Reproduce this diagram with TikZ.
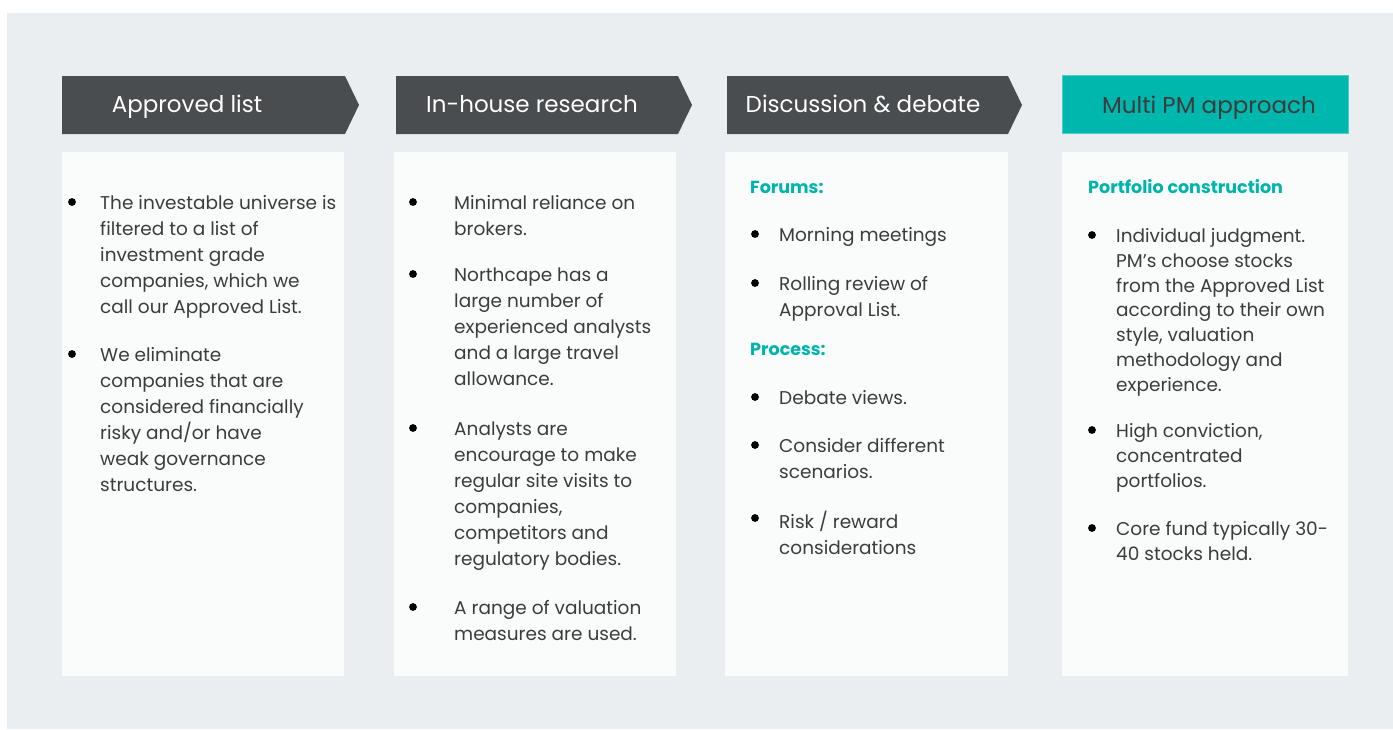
\documentclass[tikz,border=0pt]{standalone}
\usepackage{fontspec}
\setmainfont{Poppins}
\usetikzlibrary{positioning}

\definecolor{bggray}{HTML}{EAEEF1}
\definecolor{boxwhite}{HTML}{FAFCFC}
\definecolor{hdrgray}{HTML}{4A4D50}
\definecolor{hdrteal}{HTML}{00B7AE}
\definecolor{tealhead}{HTML}{00B3AB}
\definecolor{bodytext}{HTML}{3C3C3C}

\tikzstyle{hdrtext} = [anchor=base, text=white, inner sep=0pt, font=\fontsize{23}{28}\selectfont]
\tikzstyle{item} = [anchor=north west, yshift=13.7pt, align=left, inner sep=0pt, text=bodytext, font=\fontsize{18.5}{26}\selectfont]
\tikzstyle{itemtight} = [item, font=\fontsize{18.5}{24.8}\selectfont]
\tikzstyle{subhead} = [anchor=base west, inner sep=0pt, text=tealhead, font=\bfseries\fontsize{17.5}{22}\selectfont]

\begin{document}
\begin{tikzpicture}[x=1pt, y=-1pt]
  \useasboundingbox (0,0) rectangle (1393,729);
  \fill[bggray] (7,13) rectangle (1393,729);

  % headers and white columns
  \foreach \l/\r/\bl/\br in {62/345/62/344, 396/678/394/676, 727/1008/725/1008} {
    \fill[hdrgray] (\l,76) -- (\r,76) -- ({\r+14},105) -- (\r,134) -- (\l,134) -- cycle;
    \fill[boxwhite] (\bl,152) rectangle (\br,676);
  }
  \fill[hdrteal!70!white] (1062,75) rectangle (1349,134);
  \fill[hdrteal] (1063,76) rectangle (1348,133);
  \fill[boxwhite] (1062,152) rectangle (1348,676);

  \node[hdrtext] (h1) at (187,112) {Approved list};
  \node[hdrtext] (h2) at (532,112) {In-house research};
  \node[hdrtext] (h3) at (863,112) {Discussion \& debate};
  \node[hdrtext, text=bodytext] (h4) at (1209,113) {Multi PM approach};

  % bullets
  \foreach \x/\y in {72/202, 72/354, 413/202, 413/274, 413/428, 413/607,
                     755/234, 755/283, 755/397, 755/445, 755/518,
                     1092/235, 1092/430, 1092/528}
    \fill[black] (\x,\y) circle (3.9);

  % Approved list
  \node[item] (al1) at (100,209) {The investable universe is\\filtered to a list of\\investment grade\\companies, which we\\call our Approved List.};
  \node[item] (al2) at (100,361) {We eliminate\\companies that are\\considered financially\\risky and/or have\\weak governance\\structures.};

  % In-house research
  \node[item] (ir1) at (454,209) {Minimal reliance on\\brokers.};
  \node[item] (ir2) at (454,281) {Northcape has a\\large number of\\experienced analysts\\and a large travel\\allowance.};
  \node[item] (ir3) at (454,435) {Analysts are\\encourage to make\\regular site visits to\\companies,\\competitors and\\regulatory bodies.};
  \node[item] (ir4) at (454,614) {A range of valuation\\measures are used.};

  % Discussion & debate
  \node[subhead] (fo) at (750,193) {Forums:};
  \node[item] (dd1) at (779,241) {Morning meetings};
  \node[item] (dd2) at (779,290) {Rolling review of\\Approval List.};
  \node[subhead] (pr) at (750,355) {Process:};
  \node[item] (dd3) at (779,404) {Debate views.};
  \node[item] (dd4) at (779,452) {Consider different\\scenarios.};
  \node[item] (dd5) at (779,525) {Risk / reward\\considerations};

  % Multi PM approach
  \node[subhead] (pc) at (1088,193) {Portfolio construction};
  \node[itemtight] (pm1) at (1116,242) {Individual judgment.\\PM’s choose stocks\\from the Approved List\\according to their own\\style, valuation\\methodology and\\experience.};
  \node[itemtight] (pm2) at (1116,437) {High conviction,\\concentrated\\portfolios.};
  \node[itemtight] (pm3) at (1116,535) {Core fund typically 30-\\40 stocks held.};
\end{tikzpicture}
\end{document}
